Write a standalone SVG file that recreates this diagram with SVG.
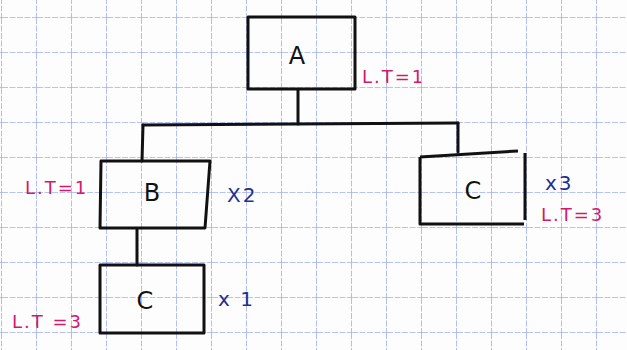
<svg xmlns="http://www.w3.org/2000/svg" width="627" height="350" viewBox="0 0 627 350">
  <defs>
    <pattern id="grid" x="2" y="-17" width="35" height="35" patternUnits="userSpaceOnUse">
      <path d="M35 0 V35 M0 35 H35" fill="none" stroke="#9fafec" stroke-width="1.6" stroke-dasharray="6 1.5"/>
    </pattern>
  </defs>
  <style>
    .box { fill: none; stroke: #111; stroke-width: 3; stroke-linejoin: round; }
    .wire { fill: none; stroke: #111; stroke-width: 3; stroke-linecap: round; }
    .lbl { font-family: "DejaVu Sans", sans-serif; font-size: 24px; fill: #111; text-anchor: middle; }
    .qty { font-family: "DejaVu Sans", sans-serif; font-size: 20px; fill: #1d2f8f; letter-spacing: 2px; }
    .lt { font-family: "DejaVu Sans", sans-serif; font-size: 18px; fill: #d4186a; letter-spacing: 2px; }
  </style>

  <!-- squared paper -->
  <rect width="627" height="350" fill="#fdfdfd"/>
  <rect width="627" height="350" fill="url(#grid)"/>

  <!-- connectors -->
  <g id="connectors">
    <path class="wire" d="M298 90 V124"/>
    <path class="wire" d="M143 125 L458 123"/>
    <path class="wire" d="M143 125 L142 161"/>
    <path class="wire" d="M458 123 V152"/>
    <path class="wire" d="M137 229 V265"/>
  </g>

  <!-- node A -->
  <g id="node-A">
    <path class="box" d="M248 17 H355 V89 H248 Z"/>
    <text class="lbl" x="297" y="64">A</text>
    <text class="lt" x="362" y="83">L.T=1</text>
  </g>

  <!-- node B -->
  <g id="node-B">
    <path class="box" d="M101 161 H210 L205 228 H100 Z"/>
    <text class="lbl" x="152" y="201">B</text>
    <text class="lt" x="25" y="194">L.T=1</text>
    <text class="qty" x="227" y="202">X2</text>
  </g>

  <!-- node C (right) -->
  <g id="node-C-right">
    <path class="box" d="M420 157 L518 151 M525 153 V220 M420 157 V224 H524"/>
    <text class="lbl" x="473" y="199">C</text>
    <text class="qty" x="545" y="190">x3</text>
    <text class="lt" x="541" y="221">L.T=3</text>
  </g>

  <!-- node C (bottom) -->
  <g id="node-C-bottom">
    <path class="box" d="M100 265 H204 V333 H100 Z"/>
    <text class="lbl" x="145" y="309">C</text>
    <text class="qty" x="218" y="306">x 1</text>
    <text class="lt" x="12" y="328">L.T =3</text>
  </g>
</svg>
